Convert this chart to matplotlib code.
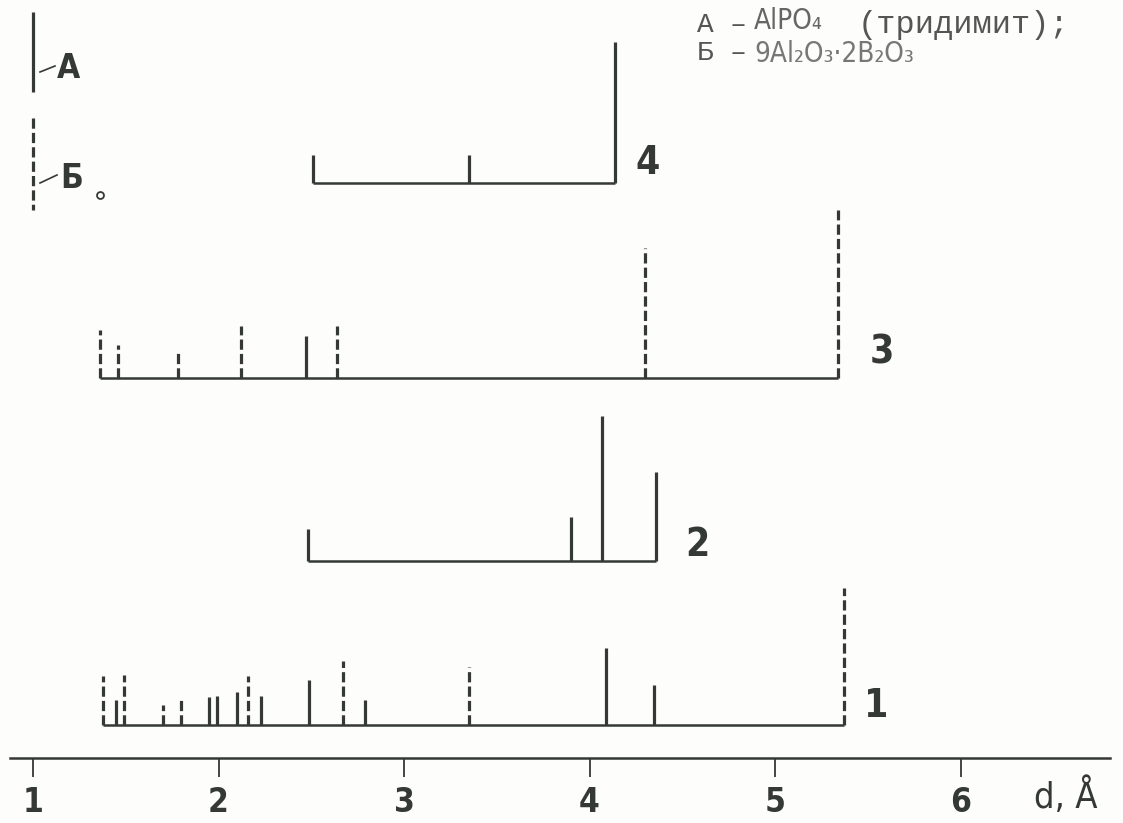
import matplotlib
matplotlib.use('Agg')
import matplotlib.pyplot as plt

INK = '#353935'
HAND = ['DejaVu Sans']
MONO = ['Liberation Mono', 'DejaVu Sans Mono']

# ---- data: d-spacings (Å), line heights (relative intensity), phase ----
# phase 'A' = AlPO4 (tridymite) -> solid line ; 'Б' = 9Al2O3·2B2O3 -> dashed line
d1 = [1.38, 1.45, 1.49, 1.70, 1.80, 1.95, 1.99, 2.10, 2.16, 2.23, 2.49, 2.67, 2.79, 3.35, 4.09, 4.35, 5.37]
I1 = [49, 25, 50, 20, 27, 28, 29, 33, 49, 29, 45, 64, 25, 58, 77, 40, 137]
ph1 = ['Б', 'A', 'Б', 'Б', 'Б', 'A', 'A', 'A', 'Б', 'A', 'A', 'Б', 'A', 'Б', 'A', 'A', 'Б']

d2 = [2.48, 3.90, 4.07, 4.36]
I2 = [32, 44, 145, 89]
ph2 = ['A', 'A', 'A', 'A']

d3 = [1.36, 1.46, 1.78, 2.12, 2.47, 2.64, 4.30, 5.34]
I3 = [48, 33, 25, 52, 42, 52, 130, 168]
ph3 = ['Б', 'Б', 'Б', 'Б', 'A', 'Б', 'Б', 'Б']

d4 = [2.51, 3.35, 4.14]
I4 = [28, 28, 141]
ph4 = ['A', 'A', 'A']

x_ticks = [1, 2, 3, 4, 5, 6]
x_ticklabels = ['1', '2', '3', '4', '5', '6']
pattern_names = ['1', '2', '3', '4']

# ---- layout ----
W, H = 1123, 823
PX0, PXU = 33.0, 185.5          # pixel of d=1 and pixels per Å
def d_of_px(px):
    return 1 + (px - PX0) / PXU

fig = plt.figure(figsize=(W / 100, H / 100), dpi=100)
fig.patch.set_facecolor('#fdfdfc')
ax = fig.add_axes([0, 0, 1, 1])
ax.set_xlim(d_of_px(0), d_of_px(W))
ax.set_ylim(H, 0)
ax.set_facecolor('none')
for s in ['left', 'right', 'top']:
    ax.spines[s].set_visible(False)
ax.set_yticks([])

# bottom d axis
ax.spines['bottom'].set_position(('data', 758))
ax.spines['bottom'].set_bounds(d_of_px(10), d_of_px(1110))
ax.spines['bottom'].set_linewidth(1.8)
ax.spines['bottom'].set_color(INK)
ax.set_xticks(x_ticks)
ax.set_xticklabels(x_ticklabels)
ax.tick_params(axis='x', direction='out', length=14, width=1.3, color=INK,
               pad=6, labelsize=24, labelcolor=INK)
for lab in ax.get_xticklabels():
    lab.set_fontfamily(HAND)
    lab.set_fontweight('bold')
    lab.set_fontstretch('condensed')

LW = 2.3
DASH = (0, (3.2, 1.3))
patterns = [(d1, I1, ph1, 725), (d2, I2, ph2, 561), (d3, I3, ph3, 378), (d4, I4, ph4, 183)]
label_pos = [(876, 706), (697, 545), (882, 352), (648, 163)]

for (d, I, ph, base), name, (lx, ly) in zip(patterns, pattern_names, label_pos):
    ax.hlines(base, min(d), max(d), color=INK, lw=1.8)
    for dv, iv, p in zip(d, I, ph):
        ax.vlines(dv, base, base - iv, color=INK, lw=LW,
                  linestyles='solid' if p == 'A' else DASH)
    ax.text(d_of_px(lx), ly, name, ha='center', va='center', fontsize=28,
            fontweight='bold', fontstretch='condensed', family=HAND, color=INK)

# axis title
ax.text(d_of_px(1066), 796, 'd, Å', ha='center', va='center', fontsize=26,
        fontstretch='condensed', family=HAND, color=INK)

# legend (left top)
ax.vlines(d_of_px(33), 12, 92, color=INK, lw=LW)
ax.plot([d_of_px(40), d_of_px(55)], [72, 66], color=INK, lw=1.2)
ax.text(d_of_px(68), 68, 'A', ha='center', va='center', fontsize=24,
        fontweight='bold', fontstretch='condensed', family=HAND, color=INK)
ax.vlines(d_of_px(33), 118, 210, color=INK, lw=LW, linestyles=DASH)
ax.plot([d_of_px(40), d_of_px(57)], [183, 175], color=INK, lw=1.2)
ax.text(d_of_px(72), 178, 'Б', ha='center', va='center', fontsize=24,
        fontweight='bold', fontstretch='condensed', family=HAND, color=INK)
ax.plot([d_of_px(100)], [195], marker='o', ms=5, mfc='none', mec=INK, mew=1.3)

# notes (top right)
ax.text(d_of_px(697), 25, 'А –', ha='left', va='center', fontsize=20,
        family=MONO, color='#555')
ax.text(d_of_px(754), 21, 'AlPO₄', ha='left', va='center', fontsize=20,
        family=['DejaVu Sans'], color='#666', fontweight='light',
        fontstretch='condensed')
ax.text(d_of_px(858), 25, '(тридимит);', ha='left', va='center', fontsize=23,
        family=MONO, color='#555')
ax.text(d_of_px(697), 53, 'Б –', ha='left', va='center', fontsize=20,
        family=MONO, color='#555')
ax.text(d_of_px(754), 54, '9Al₂O₃·2B₂O₃', ha='left', va='center', fontsize=20,
        family=['DejaVu Sans'], color='#777', fontweight='light',
        fontstretch='condensed')

fig.savefig('out.png', dpi=100, facecolor=fig.get_facecolor())
